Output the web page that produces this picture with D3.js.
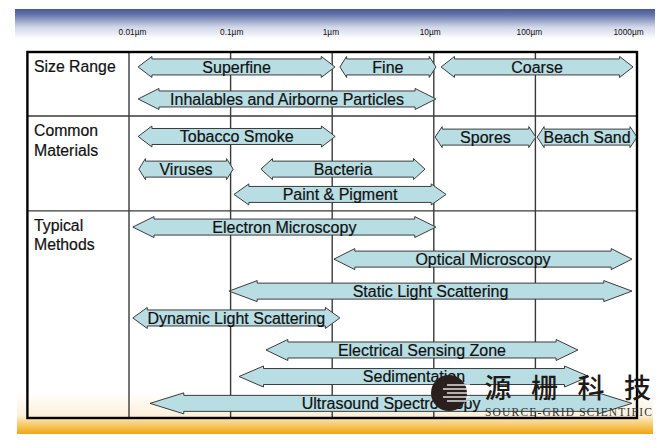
<!DOCTYPE html>
<html>
<head>
<meta charset="utf-8">
<script src="https://cdn.jsdelivr.net/npm/d3@7/dist/d3.min.js"></script>
<style>
  html, body { margin: 0; padding: 0; background: #ffffff; }
  svg { display: block; }
</style>
</head>
<body>
<svg id="chart" width="667" height="441"></svg>
<script>
// ---------- data ----------
const tickValues = [0.01, 0.1, 1, 10, 100, 1000];
const tickLabels = ["0.01µm", "0.1µm", "1µm", "10µm", "100µm", "1000µm"];

const sectionNames = [["Size Range"], ["Common", "Materials"], ["Typical", "Methods"]];
const sectionStart = [0, 2.10, 5.21];   // lane units
const sectionEnd   = [2.10, 5.21, 12];

const arrowLabels = [
  "Superfine", "Fine", "Coarse", "Inhalables and Airborne Particles",
  "Tobacco Smoke", "Spores", "Beach Sand", "Viruses", "Bacteria", "Paint & Pigment",
  "Electron Microscopy", "Optical Microscopy", "Static Light Scattering",
  "Dynamic Light Scattering", "Electrical Sensing Zone", "Sedimentation",
  "Ultrasound Spectroscopy"
];
const arrowFrom = [0.0123, 1.19, 11.8, 0.0123, 0.0123, 10.3, 104, 0.0125, 0.199, 0.108,
                   0.0109, 1.04, 0.0964, 0.0109, 0.223, 0.121, 0.0161];
const arrowTo   = [1.066, 10.5, 914, 10.5, 1.07, 101, 1000, 0.106, 8.19, 13.2,
                   10.5, 893, 893, 1.19, 262, 337, 893];
const arrowLane = [0.49, 0.49, 0.49, 1.54, 2.77, 2.79, 2.79, 3.84, 3.84, 4.67,
                   5.74, 6.79, 7.84, 8.72, 9.77, 10.64, 11.52];

// ---------- scales ----------
const svg = d3.select("#chart");
const x = d3.scaleLog().domain([0.001, 1000]).range([27.4, 637]);
const xLabel = d3.scaleLog().domain([0.01, 1000]).range([132, 628]);
const y = d3.scaleLinear().domain([0, 12]).range([52, 418]);

const defs = svg.append("defs");
const gTop = defs.append("linearGradient").attr("id", "topBand")
  .attr("x1", 0).attr("y1", 0).attr("x2", 0).attr("y2", 1);
gTop.append("stop").attr("offset", "0%").attr("stop-color", "#475997");
gTop.append("stop").attr("offset", "20%").attr("stop-color", "#6576ab");
gTop.append("stop").attr("offset", "60%").attr("stop-color", "#d0d6e8");
gTop.append("stop").attr("offset", "100%").attr("stop-color", "#ffffff");

const gBot = defs.append("linearGradient").attr("id", "botBand")
  .attr("x1", 0).attr("y1", 0).attr("x2", 0).attr("y2", 1);
gBot.append("stop").attr("offset", "0%").attr("stop-color", "#ffffff");
gBot.append("stop").attr("offset", "55%").attr("stop-color", "#fcf0dc");
gBot.append("stop").attr("offset", "82%").attr("stop-color", "#f6c457");
gBot.append("stop").attr("offset", "100%").attr("stop-color", "#efa512");

// header band
svg.append("rect").attr("x", 15).attr("y", 9).attr("width", 640).attr("height", 30)
  .attr("fill", "url(#topBand)");
// bottom band
svg.append("rect").attr("x", 17).attr("y", 392).attr("width", 636).attr("height", 42)
  .attr("fill", "url(#botBand)");

// tick labels (axis)
const axis = d3.axisTop(xLabel).tickValues(tickValues)
  .tickFormat((d, i) => tickLabels[i]).tickSize(0).tickPadding(0);
const ax = svg.append("g").attr("transform", "translate(0,35)").call(axis);
ax.select(".domain").remove();
ax.selectAll("text").attr("font-family", "Liberation Sans, Arial, sans-serif")
  .attr("font-size", 8.3).attr("fill", "#111");

// grid lines
const gridG = svg.append("g");
gridG.selectAll("line.v").data(tickValues.slice(0, 5)).join("line")
  .attr("x1", d => x(d)).attr("x2", d => x(d))
  .attr("y1", y(0)).attr("y2", y(12))
  .attr("stroke", "#3a3a3a").attr("stroke-width", 1.4);
gridG.selectAll("line.h").data(sectionStart.slice(1)).join("line")
  .attr("x1", x(0.001)).attr("x2", x(1000))
  .attr("y1", d => y(d)).attr("y2", d => y(d))
  .attr("stroke", "#3a3a3a").attr("stroke-width", 1.4);

// section labels
sectionNames.forEach((lines, i) => {
  const t = svg.append("text")
    .attr("font-family", "Liberation Sans, Arial, sans-serif")
    .attr("font-size", 15.8).attr("fill", "#111")
    .attr("stroke", "#111").attr("stroke-width", 0.2);
  lines.forEach((ln, k) => {
    t.append("tspan").attr("x", 34)
      .attr("y", y(sectionStart[i]) + 20 + k * 19.5).text(ln);
  });
});

// arrows
const arrows = arrowLabels.map((label, i) => ({
  label, from: arrowFrom[i], to: arrowTo[i], lane: arrowLane[i]
}));
function arrowPath(d) {
  const x0 = x(d.from), x1 = x(d.to), yc = y(d.lane);
  const hl = 0.07 * (x1 - x0), sh = 8, hh = 10.5;
  return `M${x0},${yc} L${x0 + hl},${yc - hh} L${x0 + hl},${yc - sh} L${x1 - hl},${yc - sh}` +
         ` L${x1 - hl},${yc - hh} L${x1},${yc} L${x1 - hl},${yc + hh} L${x1 - hl},${yc + sh}` +
         ` L${x0 + hl},${yc + sh} L${x0 + hl},${yc + hh} Z`;
}
const ag = svg.append("g").selectAll("g").data(arrows).join("g");
ag.append("path").attr("d", arrowPath)
  .attr("fill", "#b8dde3").attr("stroke", "#3c3c3c").attr("stroke-width", 1)
  .attr("stroke-linejoin", "miter");
ag.append("text")
  .attr("x", d => (x(d.from) + x(d.to)) / 2)
  .attr("y", d => y(d.lane) + 5.7)
  .attr("text-anchor", "middle")
  .attr("font-family", "Liberation Sans, Arial, sans-serif")
  .attr("font-size", 16).attr("fill", "#111")
  .attr("stroke", "#111").attr("stroke-width", 0.2)
  .text(d => d.label);

// outer box
svg.append("rect").attr("x", x(0.001)).attr("y", y(0))
  .attr("width", x(1000) - x(0.001)).attr("height", y(12) - y(0))
  .attr("fill", "none").attr("stroke", "#000").attr("stroke-width", 2.4);

// watermark
const wm = svg.append("g");
wm.append("circle").attr("cx", 449).attr("cy", 393).attr("r", 18).attr("fill", "#2a1f1c");
[-8, -4, 0, 4, 8].forEach((o, k) => {
  wm.append("line").attr("x1", 447 - (k % 2) * 4).attr("x2", 470)
    .attr("y1", 393 + o).attr("y2", 393 + o)
    .attr("stroke", "#ffffff").attr("stroke-width", 1.3);
});
const chars = ["源", "栅", "科", "技"];
chars.forEach((c, i) => {
  wm.append("text").attr("x", 498 + i * 46.5).attr("y", 398)
    .attr("text-anchor", "middle")
    .attr("font-family", "Noto Sans CJK SC, sans-serif").attr("font-weight", 500)
    .attr("font-size", 27).attr("fill", "#1e1a18").text(c);
});
wm.append("text").attr("x", 485).attr("y", 416)
  .attr("font-family", "Liberation Serif, DejaVu Serif, serif")
  .attr("font-size", 11.5).attr("letter-spacing", 1.2).attr("fill", "#333")
  .attr("textLength", 168).text("SOURCE-GRID SCIENTIFIC");
</script>
</body>
</html>
